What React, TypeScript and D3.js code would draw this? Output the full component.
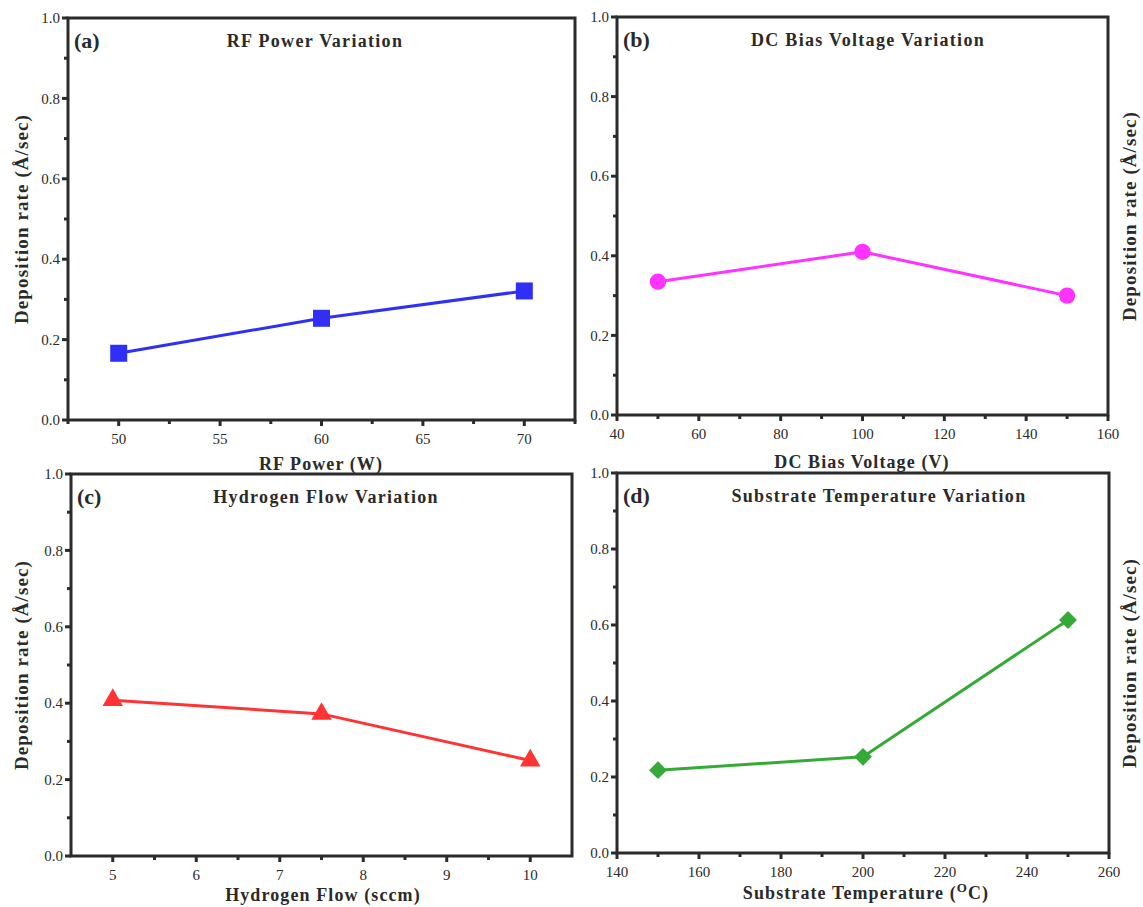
import React from "react";
import * as d3 from "d3";

// values
const rfPower = [50, 60, 70];
const rfRate = [0.166, 0.253, 0.321];
const biasVoltage = [50, 100, 150];
const biasRate = [0.335, 0.41, 0.3];
const h2Flow = [5, 7.5, 10];
const h2Rate = [0.408, 0.372, 0.25];
const subTemp = [150, 200, 250];
const subRate = [0.218, 0.253, 0.613];

const rateTicks = [0, 0.2, 0.4, 0.6, 0.8, 1.0];
const rateMinor = [0.1, 0.3, 0.5, 0.7, 0.9];

const FONT = "'Liberation Serif', 'DejaVu Serif', serif";
const AXIS = "#2b2b2b";
const INK = "#2a2a2a";

type Panel = {
  tag: string;
  title: string;
  xLabel: React.ReactNode;
  xs: number[];
  ys: number[];
  domain: [number, number];
  ticks: number[];
  minor: number[];
  box: [number, number, number, number];
  color: string;
  marker: "square" | "circle" | "triangle" | "diamond";
  ySide: "left" | "right";
  titleX: number;
  xLabelX: number;
  xLabelY: number;
};

const panels: Panel[] = [
  {
    tag: "(a)", title: "RF Power Variation", xLabel: "RF Power (W)",
    xs: rfPower, ys: rfRate, domain: [47.5, 72.5],
    ticks: [50, 55, 60, 65, 70], minor: [47.5, 52.5, 57.5, 62.5, 67.5, 72.5],
    box: [68, 18, 575, 420], color: "#2f2ff5", marker: "square", ySide: "left",
    titleX: 315, xLabelX: 321, xLabelY: 470,
  },
  {
    tag: "(b)", title: "DC Bias Voltage Variation", xLabel: "DC Bias Voltage (V)",
    xs: biasVoltage, ys: biasRate, domain: [40, 160],
    ticks: [40, 60, 80, 100, 120, 140, 160], minor: [50, 70, 90, 110, 130, 150],
    box: [617, 17, 1108, 415], color: "#ff33ff", marker: "circle", ySide: "right",
    titleX: 868, xLabelX: 862, xLabelY: 468,
  },
  {
    tag: "(c)", title: "Hydrogen Flow Variation", xLabel: "Hydrogen Flow (sccm)",
    xs: h2Flow, ys: h2Rate, domain: [4.5, 10.5],
    ticks: [5, 6, 7, 8, 9, 10], minor: [5.5, 6.5, 7.5, 8.5, 9.5],
    box: [71, 474, 572, 856], color: "#ff3333", marker: "triangle", ySide: "left",
    titleX: 326, xLabelX: 323, xLabelY: 901,
  },
  {
    tag: "(d)", title: "Substrate Temperature Variation",
    xLabel: (
      <>
        Substrate Temperature (<tspan dy={-7} fontSize={13}>O</tspan>
        <tspan dy={7}>C)</tspan>
      </>
    ),
    xs: subTemp, ys: subRate, domain: [140, 260],
    ticks: [140, 160, 180, 200, 220, 240, 260], minor: [150, 170, 190, 210, 230, 250],
    box: [617, 473, 1109, 853], color: "#36aa36", marker: "diamond", ySide: "right",
    titleX: 879, xLabelX: 866, xLabelY: 899,
  },
];

function markerPath(kind: Panel["marker"]) {
  if (kind === "square") return d3.symbol(d3.symbolSquare, 289)()!;
  if (kind === "circle") return d3.symbol(d3.symbolCircle, 210)()!;
  if (kind === "triangle") return d3.symbol(d3.symbolTriangle, 180)()!;
  return d3.symbol(d3.symbolSquare, 160)()!;
}

function PanelView({ p }: { p: Panel }) {
  const [l, t, r, b] = p.box;
  const x = d3.scaleLinear().domain(p.domain).range([l, r]);
  const y = d3.scaleLinear().domain([0, 1]).range([b, t]);
  const line = d3.line<number>().x((d, i) => x(p.xs[i])).y((d) => y(d));
  const sym = markerPath(p.marker);
  const yLabX = p.ySide === "left" ? 21 : 1129;
  const yMid = (t + b) / 2;

  return (
    <g>
      {/* frame */}
      <rect x={l} y={t} width={r - l} height={b - t} fill="none" stroke={AXIS} strokeWidth={3} />

      {/* y ticks */}
      {rateTicks.map((v) => (
        <g key={"y" + v}>
          <line x1={l - 6} x2={l} y1={y(v)} y2={y(v)} stroke={AXIS} strokeWidth={3} />
          <text x={l - 8} y={y(v)} dy="0.35em" textAnchor="end" fontSize={15}
            fill={INK} fontFamily={FONT}>{v.toFixed(1)}</text>
        </g>
      ))}
      {rateMinor.map((v) => (
        <line key={"ym" + v} x1={l - 4} x2={l} y1={y(v)} y2={y(v)} stroke={AXIS} strokeWidth={3} />
      ))}

      {/* x ticks */}
      {p.ticks.map((v) => (
        <g key={"x" + v}>
          <line x1={x(v)} x2={x(v)} y1={b} y2={b + 6} stroke={AXIS} strokeWidth={3} />
          <text x={x(v)} y={b + 24} textAnchor="middle" fontSize={15}
            fill={INK} fontFamily={FONT}>{v}</text>
        </g>
      ))}
      {p.minor.map((v) => (
        <line key={"xm" + v} x1={x(v)} x2={x(v)} y1={b} y2={b + 4} stroke={AXIS} strokeWidth={3} />
      ))}

      {/* series */}
      <path d={line(p.ys)!} fill="none" stroke={p.color} strokeWidth={3} />
      {p.ys.map((v, i) => (
        <path key={"m" + i} d={sym} fill={p.color}
          transform={`translate(${x(p.xs[i])},${y(v)})${p.marker === "diamond" ? " rotate(45)" : ""}`} />
      ))}

      {/* texts */}
      <text x={l + 6} y={t + 30} fontSize={22} fontWeight="bold" fill={INK} fontFamily={FONT}>{p.tag}</text>
      <text x={p.titleX} y={t + 29} textAnchor="middle" fontSize={18} fontWeight="bold"
        letterSpacing={1.3} fill={INK} fontFamily={FONT}>{p.title}</text>
      <text x={p.xLabelX} y={p.xLabelY} textAnchor="middle" fontSize={18} fontWeight="bold"
        letterSpacing={1.1} fill={INK} fontFamily={FONT}>{p.xLabel}</text>
      <text transform={`translate(${yLabX},${yMid}) rotate(-90)`} textAnchor="middle"
        dy="0.35em" fontSize={19} fontWeight="bold" letterSpacing={1.1} fill={INK} fontFamily={FONT}>
        Deposition rate (Å/sec)
      </text>
    </g>
  );
}

export default function App() {
  return (
    <svg width={1143} height={907} style={{ position: "absolute", left: 0, top: 0, background: "#fff" }}>
      <rect width={1143} height={907} fill="#fff" />
      {panels.map((p) => (
        <PanelView key={p.tag} p={p} />
      ))}
    </svg>
  );
}
